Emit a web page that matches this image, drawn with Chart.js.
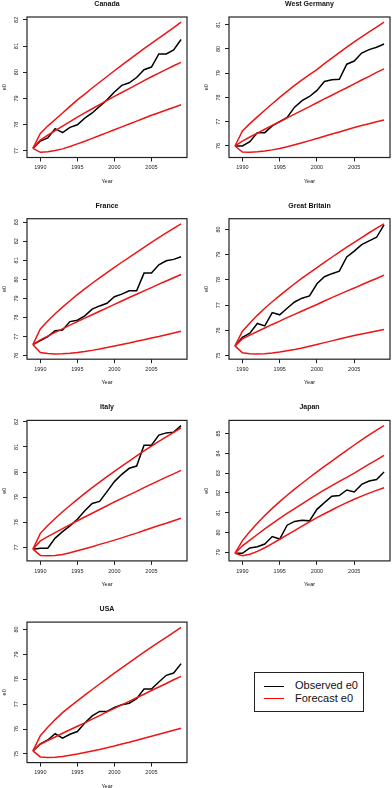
<!DOCTYPE html>
<html>
<head>
<meta charset="utf-8">
<script src="https://cdn.jsdelivr.net/npm/chart.js@4.4.1/dist/chart.umd.min.js"></script>
<style>
  html, body { margin: 0; padding: 0; background: #fff; overflow: hidden; }
  #page { position: relative; width: 392px; height: 788px; overflow: hidden; }
  #page canvas { position: absolute; }
  .legend { position: absolute; left: 254px; top: 672px; width: 108px; height: 38px; border: 1px solid #222;
            font-family: "Liberation Sans", Arial, sans-serif; font-size: 11px; color: #111; }
  .legend .ln { position: absolute; left: 9px; width: 20px; height: 1px; }
  .legend .tx { position: absolute; left: 40px; line-height: 13px; white-space: nowrap; }
</style>
</head>
<body>
<div id="page">
  <canvas id="c-canada"></canvas>
  <canvas id="c-wgermany"></canvas>
  <canvas id="c-france"></canvas>
  <canvas id="c-gbritain"></canvas>
  <canvas id="c-italy"></canvas>
  <canvas id="c-japan"></canvas>
  <canvas id="c-usa"></canvas>
  <div class="legend">
    <div class="ln" style="top:13px;background:#000"></div>
    <div class="tx" style="top:6px">Observed e0</div>
    <div class="ln" style="top:25px;background:#f00"></div>
    <div class="tx" style="top:19px">Forecast e0</div>
  </div>
</div>
<script>
// années 1989 -> 2009
var years = [1989, 1990, 1991, 1992, 1993, 1994, 1995, 1996, 1997, 1998, 1999,
             2000, 2001, 2002, 2003, 2004, 2005, 2006, 2007, 2008, 2009];

// Canada
var canadaObs = [77.10, 77.38, 77.50, 77.85, 77.70, 77.90, 78.00, 78.25, 78.45, 78.70, 78.95, 79.25, 79.50, 79.60, 79.80, 80.10, 80.20, 80.70, 80.70, 80.85, 81.25];
var canadaUp  = [77.10, 77.67, 77.95, 78.20, 78.45, 78.70, 78.95, 79.17, 79.40, 79.62, 79.84, 80.06, 80.27, 80.48, 80.69, 80.90, 81.10, 81.30, 81.50, 81.70, 81.91];
var canadaMed = [77.10, 77.42, 77.60, 77.78, 77.95, 78.12, 78.29, 78.45, 78.61, 78.77, 78.93, 79.08, 79.23, 79.38, 79.53, 79.68, 79.83, 79.97, 80.11, 80.25, 80.38];
var canadaLow = [77.10, 76.95, 76.97, 77.02, 77.08, 77.17, 77.27, 77.37, 77.48, 77.59, 77.70, 77.81, 77.92, 78.03, 78.14, 78.25, 78.36, 78.46, 78.56, 78.66, 78.76];

// West Germany
var wgerObs = [76.00, 76.00, 76.18, 76.55, 76.55, 76.83, 77.00, 77.18, 77.60, 77.87, 78.04, 78.29, 78.66, 78.73, 78.75, 79.37, 79.50, 79.83, 79.97, 80.07, 80.20];
var wgerUp  = [76.00, 76.62, 76.92, 77.20, 77.47, 77.74, 78.00, 78.25, 78.50, 78.72, 78.94, 79.15, 79.39, 79.62, 79.85, 80.07, 80.29, 80.50, 80.70, 80.90, 81.10];
var wgerMed = [76.00, 76.20, 76.37, 76.53, 76.69, 76.85, 77.00, 77.16, 77.31, 77.47, 77.62, 77.78, 77.94, 78.09, 78.25, 78.40, 78.56, 78.72, 78.87, 79.03, 79.18];
var wgerLow = [76.00, 75.75, 75.74, 75.76, 75.79, 75.84, 75.90, 75.97, 76.05, 76.13, 76.22, 76.31, 76.40, 76.49, 76.58, 76.67, 76.76, 76.84, 76.92, 77.00, 77.07];

// France
var franceObs = [76.58, 76.79, 77.00, 77.31, 77.35, 77.79, 77.86, 78.09, 78.44, 78.61, 78.75, 79.09, 79.23, 79.40, 79.40, 80.33, 80.33, 80.77, 80.98, 81.05, 81.19];
var franceUp  = [76.58, 77.40, 77.82, 78.20, 78.55, 78.88, 79.20, 79.50, 79.80, 80.08, 80.36, 80.63, 80.90, 81.16, 81.42, 81.68, 81.94, 82.19, 82.44, 82.68, 82.91];
var franceMed = [76.58, 76.83, 77.03, 77.22, 77.41, 77.60, 77.79, 77.97, 78.15, 78.33, 78.51, 78.69, 78.87, 79.05, 79.22, 79.40, 79.57, 79.75, 79.92, 80.09, 80.26];
var franceLow = [76.58, 76.17, 76.11, 76.09, 76.10, 76.13, 76.17, 76.22, 76.28, 76.35, 76.43, 76.51, 76.59, 76.67, 76.76, 76.84, 76.93, 77.01, 77.10, 77.19, 77.28];

// Great Britain
var gbObs = [75.39, 75.73, 75.89, 76.28, 76.18, 76.71, 76.62, 76.88, 77.13, 77.28, 77.37, 77.85, 78.13, 78.25, 78.35, 78.91, 79.14, 79.40, 79.55, 79.69, 80.18];
var gbUp  = [75.39, 75.97, 76.30, 76.60, 76.88, 77.14, 77.38, 77.62, 77.85, 78.07, 78.28, 78.49, 78.70, 78.90, 79.10, 79.30, 79.49, 79.68, 79.87, 80.05, 80.22];
var gbMed = [75.39, 75.67, 75.82, 75.96, 76.10, 76.24, 76.37, 76.51, 76.64, 76.77, 76.90, 77.03, 77.17, 77.30, 77.43, 77.56, 77.68, 77.81, 77.94, 78.06, 78.19];
var gbLow = [75.39, 75.12, 75.08, 75.07, 75.08, 75.11, 75.15, 75.20, 75.25, 75.31, 75.38, 75.45, 75.52, 75.59, 75.66, 75.73, 75.80, 75.86, 75.92, 75.98, 76.04];

// Italy
var italyObs = [76.93, 76.97, 76.97, 77.37, 77.63, 77.86, 78.12, 78.46, 78.75, 78.83, 79.22, 79.62, 79.91, 80.15, 80.24, 81.07, 81.07, 81.47, 81.56, 81.59, 81.85];
var italyUp  = [76.93, 77.56, 77.87, 78.15, 78.42, 78.67, 78.91, 79.15, 79.38, 79.60, 79.82, 80.03, 80.24, 80.44, 80.64, 80.84, 81.03, 81.22, 81.40, 81.58, 81.76];
var italyMed = [76.93, 77.26, 77.43, 77.59, 77.75, 77.91, 78.06, 78.21, 78.36, 78.51, 78.66, 78.81, 78.95, 79.09, 79.23, 79.38, 79.52, 79.66, 79.80, 79.93, 80.07];
var italyLow = [76.93, 76.68, 76.67, 76.68, 76.72, 76.79, 76.87, 76.95, 77.03, 77.12, 77.20, 77.29, 77.38, 77.48, 77.57, 77.67, 77.77, 77.87, 77.96, 78.06, 78.16];

// Japan
var japanObs = [78.95, 78.95, 79.22, 79.28, 79.42, 79.80, 79.67, 80.37, 80.56, 80.62, 80.59, 81.17, 81.51, 81.83, 81.87, 82.15, 82.05, 82.43, 82.60, 82.68, 83.06];
var japanUp  = [78.95, 79.59, 80.05, 80.47, 80.86, 81.22, 81.56, 81.88, 82.19, 82.49, 82.78, 83.06, 83.34, 83.61, 83.88, 84.15, 84.42, 84.68, 84.93, 85.17, 85.40];
var japanMed = [78.95, 79.33, 79.62, 79.90, 80.18, 80.45, 80.72, 80.97, 81.21, 81.45, 81.69, 81.93, 82.15, 82.37, 82.58, 82.79, 83.00, 83.23, 83.45, 83.67, 83.90];
var japanLow = [78.95, 78.83, 78.90, 79.05, 79.23, 79.44, 79.66, 79.88, 80.10, 80.32, 80.54, 80.75, 80.95, 81.14, 81.33, 81.51, 81.68, 81.84, 81.99, 82.13, 82.26];

// USA
var usaObs = [75.12, 75.40, 75.56, 75.81, 75.63, 75.79, 75.90, 76.24, 76.53, 76.71, 76.71, 76.87, 76.98, 77.04, 77.22, 77.61, 77.61, 77.89, 78.16, 78.25, 78.63];
var usaUp  = [75.12, 75.73, 76.07, 76.38, 76.66, 76.90, 77.13, 77.36, 77.59, 77.81, 78.03, 78.25, 78.46, 78.67, 78.88, 79.09, 79.29, 79.49, 79.69, 79.89, 80.09];
var usaMed = [75.12, 75.39, 75.54, 75.68, 75.83, 75.97, 76.11, 76.25, 76.40, 76.54, 76.69, 76.83, 76.97, 77.11, 77.26, 77.40, 77.55, 77.69, 77.83, 77.98, 78.12];
var usaLow = [75.12, 74.88, 74.86, 74.87, 74.90, 74.95, 75.00, 75.06, 75.12, 75.18, 75.25, 75.32, 75.40, 75.47, 75.55, 75.63, 75.71, 75.79, 75.87, 75.95, 76.03];

var FONT = '"Liberation Sans", Arial, sans-serif';
var RED = 'rgb(238, 20, 20)';

// cadre + titres façon R
var framePlugin = {
  id: 'frame',
  afterDraw: function(chart, args, opts) {
    var a = chart.chartArea, ctx = chart.ctx;
    ctx.save();
    ctx.strokeStyle = '#222';
    ctx.lineWidth = 1.2;
    ctx.strokeRect(a.left, a.top, a.right - a.left, a.bottom - a.top);
    ctx.fillStyle = '#111';
    ctx.textAlign = 'center';
    ctx.textBaseline = 'middle';
    ctx.font = 'bold 7px ' + FONT;
    ctx.fillText(opts.title, (a.left + a.right) / 2, a.top - 13);
    ctx.font = '5.5px ' + FONT;
    ctx.fillText('Year', (a.left + a.right) / 2, a.bottom + 23.5);
    ctx.translate(a.left - 22.5, (a.top + a.bottom) / 2);
    ctx.rotate(-Math.PI / 2);
    ctx.fillText('e0', 0, 0);
    ctx.restore();
  }
};

function toPoints(vals) {
  return years.map(function(y, i) { return { x: y, y: vals[i] }; });
}

function createPanel(canvasId, title, obs, up, med, low, col, boxTop) {
  var canvas = document.getElementById(canvasId);
  var W = 196, H = 186;
  var canvasTop = Math.floor(boxTop - 17);
  canvas.width = W;
  canvas.height = H;
  canvas.style.left = (col * 196) + 'px';
  canvas.style.top = canvasTop + 'px';

  var boxLeft = col === 0 ? 27 : 33;
  var boxRight = col === 0 ? 187 : 194;
  var boxH = 140.5;
  var padTop = boxTop - canvasTop;
  var xAxisH = H - padTop - boxH;

  var all = obs.concat(up, med, low);
  var lo = Math.min.apply(null, all), hi = Math.max.apply(null, all);
  var pad = (hi - lo) * 0.04;

  var tickFont = { family: FONT, size: 5.5 };
  var lineDs = function(vals, color) {
    return { data: toPoints(vals), borderColor: color, borderWidth: 1.5, pointRadius: 0, tension: 0, fill: false };
  };

  new Chart(canvas.getContext('2d'), {
    type: 'line',
    data: {
      datasets: [lineDs(up, RED), lineDs(med, RED), lineDs(low, RED), lineDs(obs, '#000')]
    },
    options: {
      responsive: false,
      animation: false,
      layout: { padding: { top: padTop, right: W - boxRight, left: 0, bottom: 0 } },
      plugins: { legend: { display: false }, tooltip: { enabled: false }, frame: { title: title } },
      scales: {
        x: {
          type: 'linear',
          min: 1989 - 0.8,
          max: 2009 + 0.8,
          afterFit: function(s) { s.height = xAxisH; },
          border: { display: false },
          grid: { drawOnChartArea: false, tickLength: 4, color: '#222', lineWidth: 1 },
          ticks: {
            stepSize: 5, includeBounds: false, padding: 3, color: '#222', font: tickFont,
            maxRotation: 0, minRotation: 0,
            callback: function(v) { return String(v); }
          }
        },
        y: {
          min: lo - pad,
          max: hi + pad,
          afterFit: function(s) { s.width = boxLeft; },
          border: { display: false },
          grid: { drawOnChartArea: false, tickLength: 4, color: '#222', lineWidth: 1 },
          ticks: {
            stepSize: 1, includeBounds: false, padding: 3, color: '#222', font: tickFont,
            minRotation: 90, maxRotation: 90, crossAlign: 'center',
            callback: function(v) { return String(v); }
          }
        }
      }
    },
    plugins: [framePlugin]
  });
}

window.addEventListener('load', function() {
  var rowTops = [17, 218.7, 420.4, 622.1];
  createPanel('c-canada', 'Canada', canadaObs, canadaUp, canadaMed, canadaLow, 0, rowTops[0]);
  createPanel('c-wgermany', 'West Germany', wgerObs, wgerUp, wgerMed, wgerLow, 1, rowTops[0]);
  createPanel('c-france', 'France', franceObs, franceUp, franceMed, franceLow, 0, rowTops[1]);
  createPanel('c-gbritain', 'Great Britain', gbObs, gbUp, gbMed, gbLow, 1, rowTops[1]);
  createPanel('c-italy', 'Italy', italyObs, italyUp, italyMed, italyLow, 0, rowTops[2]);
  createPanel('c-japan', 'Japan', japanObs, japanUp, japanMed, japanLow, 1, rowTops[2]);
  createPanel('c-usa', 'USA', usaObs, usaUp, usaMed, usaLow, 0, rowTops[3]);
});
</script>
</body>
</html>
